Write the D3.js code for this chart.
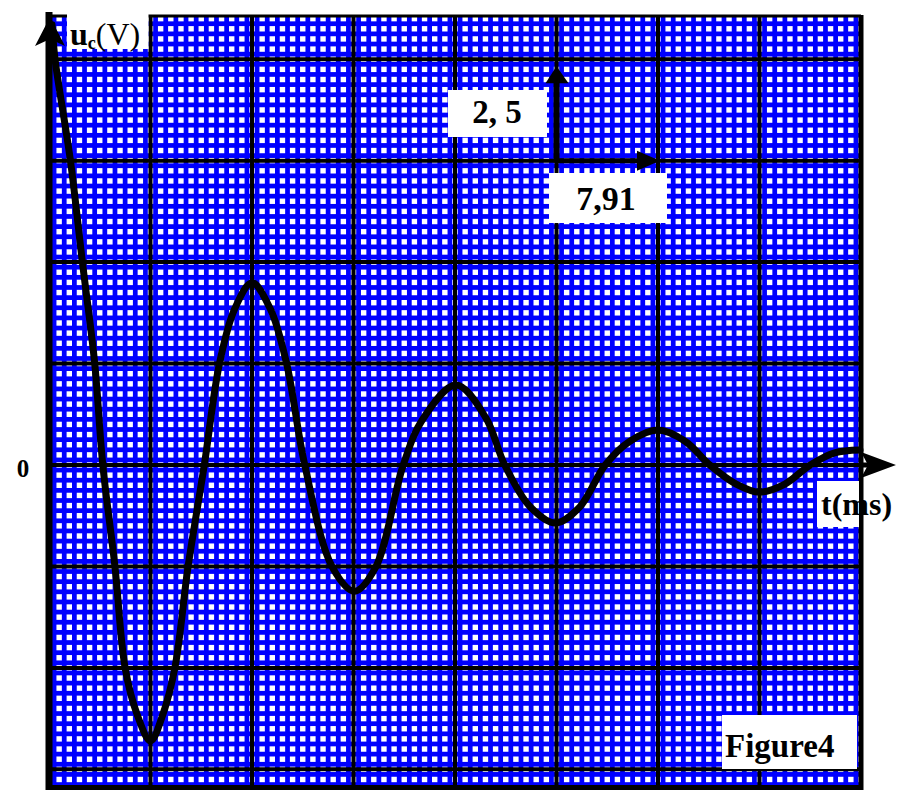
<!DOCTYPE html>
<html><head><meta charset="utf-8">
<script src="https://cdn.jsdelivr.net/npm/d3@7"></script>
<style>html,body{margin:0;padding:0;background:#fff;}svg{display:block;}</style>
</head><body>
<script>
// ---- data (t in divisions, u in volts) ----
const tValues = [0.03,0.06,0.21,0.33,0.45,0.53,0.65,0.75,0.87,1.00,1.12,1.24,1.37,1.53,1.68,1.83,2.00,2.18,2.34,2.52,2.79,3.01,3.22,3.49,3.68,4.01,4.30,4.49,4.74,4.99,5.23,5.48,5.72,6.00,6.27,6.51,6.77,7.00,7.25,7.50,7.74,7.99];
const uValues = [10.85,9.99,7.52,4.98,2.51,0,-2.51,-5.00,-6.16,-6.80,-6.16,-5.00,-2.51,0,2.51,3.85,4.49,3.85,2.51,0,-2.51,-3.11,-2.51,0,1.12,1.97,1.18,0,-1.03,-1.43,-1.03,0,0.58,0.86,0.58,0,-0.47,-0.67,-0.47,0,0.30,0.37];
const majorT = [1,2,3,4,5,6,7];
const majorU = [-7.5,-5,-2.5,0,2.5,5,7.5,10];
const tDomain = [0, 8];
const uDomain = [-7.96, 11.09];
const yLabelMain = "u", yLabelSub = "c", yLabelUnit = "(V)";
const xLabel = "t(ms)";
const zeroLabel = "0";
const figLabel = "Figure4";
const vScaleLabel = "2, 5";
const hScaleLabel = "7,91";
const scaleArrowT = [5, 6];
const scaleArrowU = [7.5, 10];

const W = 911, H = 795;
const svg = d3.select("body").append("svg").attr("width", W).attr("height", H);
const x = d3.scaleLinear().domain(tDomain).range([49, 861]);
const y = d3.scaleLinear().domain(uDomain).range([788, 15]);
const font = "'Liberation Serif','Times New Roman',serif";

svg.append("rect").attr("width", W).attr("height", H).attr("fill", "#fff");
svg.append("defs").append("clipPath").attr("id", "plot")
  .append("rect").attr("x", x(0)).attr("y", y(uDomain[1])).attr("width", x(8) - x(0)).attr("height", y(uDomain[0]) - y(uDomain[1]));
const g = svg.append("g").attr("clip-path", "url(#plot)");
g.append("rect").attr("x", x(0)).attr("y", y(uDomain[1])).attr("width", x(8) - x(0)).attr("height", y(uDomain[0]) - y(uDomain[1])).attr("fill", "#0000ff");

// minor white dots
const minorT = d3.range(0, 81).map(k => k * 0.1);
const minorU = d3.range(-32, 45).map(k => k * 0.25);
const pts = [];
minorT.forEach(t => minorU.forEach(u => pts.push([t, u])));
const ds = 5.4;
g.append("g").selectAll("rect").data(pts).join("rect")
  .attr("x", d => x(d[0]) - ds / 2).attr("y", d => y(d[1]) - ds / 2)
  .attr("width", ds).attr("height", ds).attr("fill", "#fff");

// major grid
g.append("g").selectAll("line").data(majorT).join("line")
  .attr("x1", d => x(d)).attr("x2", d => x(d)).attr("y1", y(uDomain[1])).attr("y2", y(uDomain[0]))
  .attr("stroke", "#000").attr("stroke-width", 4);
g.append("g").selectAll("line").data(majorU).join("line")
  .attr("y1", d => y(d)).attr("y2", d => y(d)).attr("x1", x(0)).attr("x2", x(8))
  .attr("stroke", "#000").attr("stroke-width", 4);

// borders
svg.append("line").attr("x1", x(0)).attr("x2", x(0)).attr("y1", 12).attr("y2", 790).attr("stroke", "#000").attr("stroke-width", 7);
svg.append("line").attr("x1", x(0)).attr("x2", x(8)).attr("y1", 16).attr("y2", 16).attr("stroke", "#000").attr("stroke-width", 3);
svg.append("line").attr("x1", x(8)).attr("x2", x(8)).attr("y1", 15).attr("y2", 790).attr("stroke", "#000").attr("stroke-width", 5);
svg.append("line").attr("x1", x(0)).attr("x2", x(8) + 2).attr("y1", 787.5).attr("y2", 787.5).attr("stroke", "#000").attr("stroke-width", 5);

// u_c(V) label box
svg.append("rect").attr("x", 67).attr("y", 11).attr("width", x(1) - 2 - 67).attr("height", 38).attr("fill", "#fff");
const yl = svg.append("text").attr("x", 70).attr("y", 45).attr("font-family", font).attr("font-size", 32).attr("font-weight", "bold").attr("fill", "#000");
yl.append("tspan").text(yLabelMain);
yl.append("tspan").attr("font-size", 18).attr("dy", 4).text(yLabelSub);
yl.append("tspan").attr("dy", -4).attr("font-weight", "normal").text(yLabelUnit);

// t(ms) box
svg.append("rect").attr("x", 817).attr("y", 481).attr("width", x(8) - 2 - 817).attr("height", 46).attr("fill", "#fff");
svg.append("text").attr("x", 821).attr("y", 515).attr("font-family", font).attr("font-size", 32).attr("font-weight", "bold").text(xLabel);

// x axis arrow (extension of zero line)
svg.append("line").attr("x1", x(8)).attr("x2", 885).attr("y1", y(0)).attr("y2", y(0)).attr("stroke", "#000").attr("stroke-width", 5);
svg.append("path").attr("d", `M${x(8)},${y(0) - 13} L896,${y(0)} L${x(8)},${y(0) + 13} L${x(8) + 7},${y(0)} Z`).attr("fill", "#000");

// curve
const line = d3.line().x(d => x(d[0])).y(d => y(d[1])).curve(d3.curveCatmullRom.alpha(0.5));
svg.append("path").datum(tValues.map((t, i) => [t, uValues[i]])).attr("d", line)
  .attr("fill", "none").attr("stroke", "#000").attr("stroke-width", 7).attr("stroke-linejoin", "round").attr("stroke-linecap", "round");

// y axis arrow head
svg.append("path").attr("d", `M${x(0) + 1},17 L${x(0) + 16},46 L${x(0) + 1},39 L${x(0) - 14},46 Z`).attr("fill", "#000");

// zero label
svg.append("text").attr("x", 23).attr("y", y(0) + 12).attr("text-anchor", "middle").attr("font-family", font).attr("font-size", 25).attr("font-weight", "bold").text(zeroLabel);

// scale annotation: vertical arrow
svg.append("line").attr("x1", x(scaleArrowT[0])).attr("x2", x(scaleArrowT[0])).attr("y1", y(scaleArrowU[0]) + 2).attr("y2", y(scaleArrowU[1]) + 20)
  .attr("stroke", "#000").attr("stroke-width", 6);
svg.append("path").attr("d", `M${x(scaleArrowT[0])},${y(scaleArrowU[1]) + 7} L${x(scaleArrowT[0]) + 12},${y(scaleArrowU[1]) + 24} L${x(scaleArrowT[0]) - 11},${y(scaleArrowU[1]) + 24} Z`).attr("fill", "#000");
// horizontal arrow
svg.append("line").attr("x1", x(scaleArrowT[0])).attr("x2", x(scaleArrowT[1]) - 20).attr("y1", y(scaleArrowU[0])).attr("y2", y(scaleArrowU[0]))
  .attr("stroke", "#000").attr("stroke-width", 5);
svg.append("path").attr("d", `M${x(scaleArrowT[1]) + 2},${y(scaleArrowU[0])} L${x(scaleArrowT[1]) - 21},${y(scaleArrowU[0]) - 10} L${x(scaleArrowT[1]) - 21},${y(scaleArrowU[0]) + 10} Z`).attr("fill", "#000");

// "2, 5" box
svg.append("rect").attr("x", 448).attr("y", 90).attr("width", 99).attr("height", 47).attr("fill", "#fff");
svg.append("text").attr("x", 497).attr("y", 123).attr("text-anchor", "middle").attr("font-family", font).attr("font-size", 33).attr("font-weight", "bold").text(vScaleLabel);
// "7,91" box
svg.append("rect").attr("x", 549).attr("y", 173).attr("width", 118).attr("height", 50).attr("fill", "#fff");
svg.append("text").attr("x", 606).attr("y", 210).attr("text-anchor", "middle").attr("font-family", font).attr("font-size", 34).attr("font-weight", "bold").text(hScaleLabel);

// Figure4 box
svg.append("rect").attr("x", 722).attr("y", 715).attr("width", 135).attr("height", 54).attr("fill", "#fff");
svg.append("text").attr("x", 725).attr("y", 757).attr("font-family", font).attr("font-size", 33).attr("font-weight", "bold").text(figLabel);
</script>
</body></html>
